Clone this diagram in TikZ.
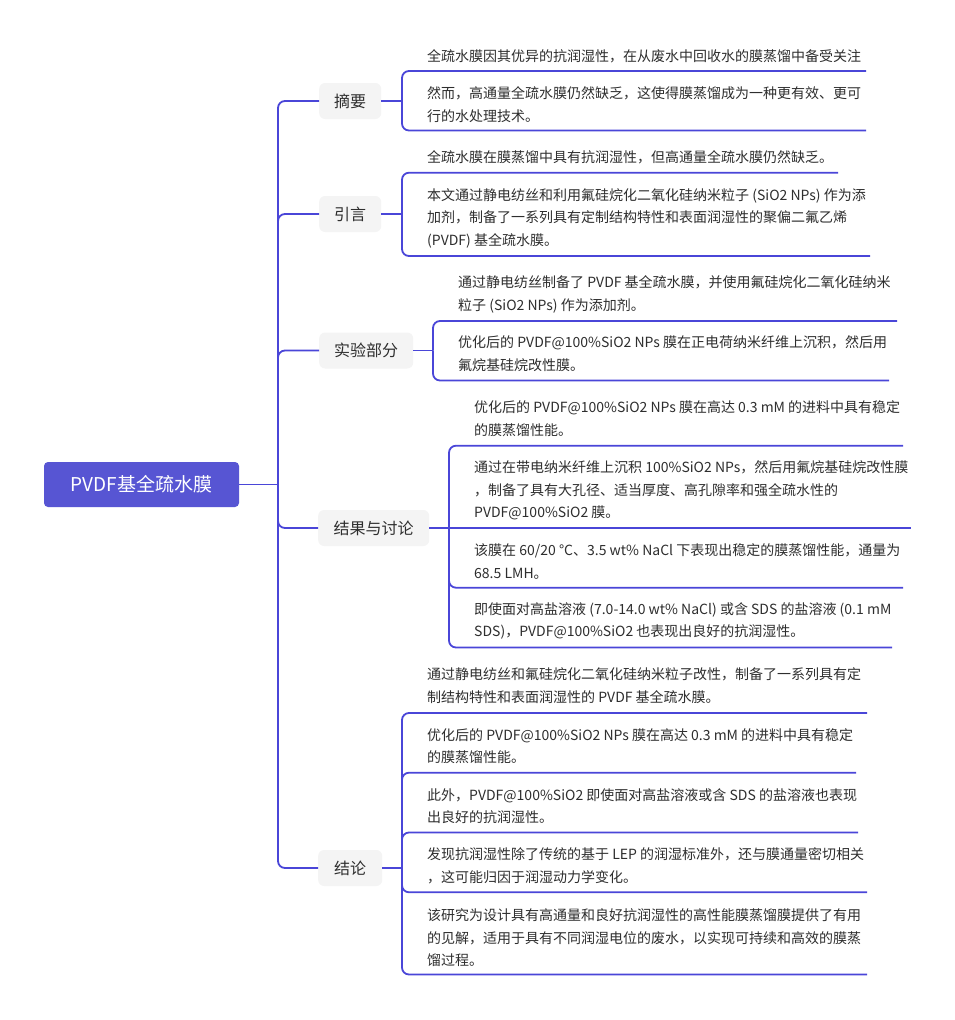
\documentclass[tikz,border=0pt]{standalone}
\usepackage{fontspec}
\setmainfont{Noto Sans CJK SC}
\definecolor{edge}{HTML}{4A46D8}
\definecolor{rootfill}{HTML}{5755D3}
\definecolor{catfill}{HTML}{F4F4F4}
\definecolor{txt}{HTML}{2E2E2E}
\begin{document}
\begin{tikzpicture}[x=1pt,y=-1pt,
 rootnode/.style={fill=rootfill, rounded corners=4pt, text=white, font=\fontsize{19}{22}\selectfont, minimum width=195pt, minimum height=45pt, inner sep=0pt},
 catnode/.style={fill=catfill, rounded corners=6pt, text=txt, font=\fontsize{16}{19}\selectfont, minimum height=36pt, inner sep=0pt, anchor=west},
 leaf/.style={text=txt, font=\fontsize{14}{22.3}\selectfont, align=left, anchor=west, inner sep=0pt},
 link/.style={draw=edge, line width=1.8pt},
 blink/.style={link, rounded corners=7pt}]
\useasboundingbox (0,0) rectangle (955,1020);
\fill[white] (0,0) rectangle (955,1020);

% root
\node[rootnode] (root) at (141.5,484.5) {PVDF基全疏水膜};
\coordinate (trunk) at (278,484.5);
\draw[link] (root.east) -- (trunk);

% categories
\node[catnode, minimum width=62pt] (c1) at (319,101) {摘要};
\node[catnode, minimum width=62pt] (c2) at (319,214) {引言};
\node[catnode, minimum width=94pt] (c3) at (319,350.5) {实验部分};
\node[catnode, minimum width=111pt] (c4) at (318,528) {结果与讨论};
\node[catnode, minimum width=64pt] (c5) at (318,868) {结论};

\foreach \c in {c1,c2,c3,c4,c5} {\draw[blink] (trunk) |- (\c.west);}

% brackets
\coordinate (b1) at (402,101);
\coordinate (b2) at (402,214);
\coordinate (b3) at (433,350.5);
\coordinate (b4) at (449,528);
\coordinate (b5) at (402,868);
\draw[link] (c1.east) -- (b1);
\draw[link] (c2.east) -- (b2);
\draw[link] (c3.east) -- (b3);
\draw[link] (c4.east) -- (b4);
\draw[link] (c5.east) -- (b5);

% 摘要
\node[leaf] (l11) at (427,56) {全疏水膜因其优异的抗润湿性，在从废水中回收水的膜蒸馏中备受关注};
\node[leaf] (l12) at (427,104.7) {然而，高通量全疏水膜仍然缺乏，这使得膜蒸馏成为一种更有效、更可\\行的水处理技术。};
\coordinate (e11) at (866,71);
\coordinate (e12) at (866,130.5);
\draw[blink] (b1) |- (e11);
\draw[blink] (b1) |- (e12);

% 引言
\node[leaf] (l21) at (427,157.7) {全疏水膜在膜蒸馏中具有抗润湿性，但高通量全疏水膜仍然缺乏。};
\node[leaf] (l22) at (427,218.2) {本文通过静电纺丝和利用氟硅烷化二氧化硅纳米粒子 (SiO2 NPs) 作为添\\加剂，制备了一系列具有定制结构特性和表面润湿性的聚偏二氟乙烯\\(PVDF) 基全疏水膜。};
\coordinate (e21) at (838,172.7);
\coordinate (e22) at (870,256);
\draw[blink] (b2) |- (e21);
\draw[blink] (b2) |- (e22);

% 实验部分
\node[leaf] (l31) at (458,294.4) {通过静电纺丝制备了 PVDF 基全疏水膜，并使用氟硅烷化二氧化硅纳米\\粒子 (SiO2 NPs) 作为添加剂。};
\node[leaf] (l32) at (458,353.8) {优化后的 PVDF@100\%SiO2 NPs 膜在正电荷纳米纤维上沉积，然后用\\氟烷基硅烷改性膜。};
\coordinate (e31) at (897,321);
\coordinate (e32) at (889,380.5);
\draw[blink] (b3) |- (e31);
\draw[blink] (b3) |- (e32);

% 结果与讨论
\node[leaf] (l41) at (474,418.8) {优化后的 PVDF@100\%SiO2 NPs 膜在高达 0.3 mM 的进料中具有稳定\\的膜蒸馏性能。};
\node[leaf] (l42) at (474,490.4) {通过在带电纳米纤维上沉积 100\%SiO2 NPs，然后用氟烷基硅烷改性膜\\，制备了具有大孔径、适当厚度、高孔隙率和强全疏水性的\\PVDF@100\%SiO2 膜。};
\node[leaf] (l43) at (474,561.5) {该膜在 60/20 °C、3.5 wt\% NaCl 下表现出稳定的膜蒸馏性能，通量为\\68.5 LMH。};
\node[leaf] (l44) at (474,620.9) {即使面对高盐溶液 (7.0-14.0 wt\% NaCl) 或含 SDS 的盐溶液 (0.1 mM\\SDS)，PVDF@100\%SiO2 也表现出良好的抗润湿性。};
\coordinate (e41) at (903,445.7);
\coordinate (e42) at (911,528);
\coordinate (e43) at (903,587.7);
\coordinate (e44) at (892,647.5);
\draw[blink] (b4) |- (e41);
\draw[link] (b4) -- (e42);
\draw[blink] (b4) |- (e43);
\draw[blink] (b4) |- (e44);

% 结论
\node[leaf] (l51) at (427,685.5) {通过静电纺丝和氟硅烷化二氧化硅纳米粒子改性，制备了一系列具有定\\制结构特性和表面润湿性的 PVDF 基全疏水膜。};
\node[leaf] (l52) at (427,746) {优化后的 PVDF@100\%SiO2 NPs 膜在高达 0.3 mM 的进料中具有稳定\\的膜蒸馏性能。};
\node[leaf] (l53) at (427,806) {此外，PVDF@100\%SiO2 即使面对高盐溶液或含 SDS 的盐溶液也表现\\出良好的抗润湿性。};
\node[leaf] (l54) at (427,865.8) {发现抗润湿性除了传统的基于 LEP 的润湿标准外，还与膜通量密切相关\\，这可能归因于润湿动力学变化。};
\node[leaf] (l55) at (427,937.6) {该研究为设计具有高通量和良好抗润湿性的高性能膜蒸馏膜提供了有用\\的见解，适用于具有不同润湿电位的废水，以实现可持续和高效的膜蒸\\馏过程。};
\coordinate (e51) at (867,713);
\coordinate (e52) at (856,772.7);
\coordinate (e53) at (858,832.5);
\coordinate (e54) at (867,892.3);
\coordinate (e55) at (867,974.5);
\foreach \e in {e51,e52,e53,e54,e55} {\draw[blink] (b5) |- (\e);}
\end{tikzpicture}
\end{document}
